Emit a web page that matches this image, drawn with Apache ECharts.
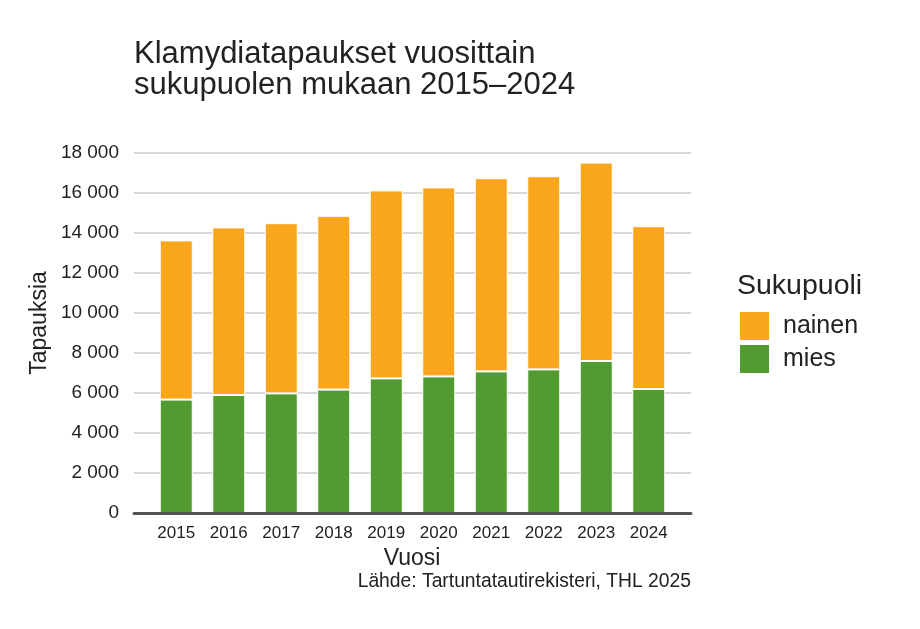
<!DOCTYPE html>
<html>
<head>
<meta charset="utf-8">
<script src="https://cdn.jsdelivr.net/npm/echarts@6/dist/echarts.min.js"></script>
<style>
    html, body {margin: 0; padding: 0; background: #fff;}
    #main {width: 920px; height: 629px;}
</style>
</head>
<body>
<div id="main"></div>
<script>
    var vuodet = ['2015', '2016', '2017', '2018', '2019', '2020', '2021', '2022', '2023', '2024'];
    var mies = [5670, 5900, 5980, 6170, 6730, 6830, 7080, 7180, 7600, 6200];
    var nainen = [7960, 8380, 8510, 8690, 9400, 9450, 9660, 9660, 9920, 8140];
    var yTicks = [0, 2000, 4000, 6000, 8000, 10000, 12000, 14000, 16000, 18000];

    var fontName = '"Liberation Sans", Arial, sans-serif';

    function tuhannet(v) {
        return String(v).replace(/\B(?=(\d{3})+(?!\d))/g, ' ');
    }

    var myChart = echarts.init(document.getElementById('main'));

    var option = {
        backgroundColor: '#ffffff',
        textStyle: {fontFamily: fontName},
        title: [
            {
                text: 'Klamydiatapaukset vuosittain\nsukupuolen mukaan 2015–2024',
                left: 134,
                top: 39,
                padding: 0,
                textStyle: {fontSize: 31, lineHeight: 31, fontWeight: 'normal', color: '#222', fontFamily: fontName}
            },
            {
                text: 'Sukupuoli',
                left: 737,
                top: 272,
                padding: 0,
                textStyle: {fontSize: 28.5, lineHeight: 28, fontWeight: 'normal', color: '#222', fontFamily: fontName}
            }
        ],
        legend: {
            data: ['nainen', 'mies'],
            orient: 'vertical',
            left: 740,
            top: 312,
            padding: 0,
            icon: 'rect',
            itemWidth: 29,
            itemHeight: 28,
            itemGap: 5,
            itemStyle: {borderWidth: 0},
            textStyle: {fontSize: 25, color: '#222', padding: [0, 0, 0, 9], fontFamily: fontName}
        },
        grid: [
            {left: 134, right: 229, top: 153, bottom: 116},
            {left: 150, right: 245, top: 153, bottom: 116}
        ],
        xAxis: [
            {
                gridIndex: 0,
                type: 'value',
                min: 0,
                max: 1,
                axisLabel: {show: false},
                axisTick: {show: false},
                splitLine: {show: false},
                axisLine: {show: true, lineStyle: {color: '#555', width: 3}},
                z: 5
            },
            {
                gridIndex: 1,
                type: 'category',
                data: vuodet,
                axisLine: {show: false},
                axisTick: {show: false},
                axisLabel: {fontSize: 17, color: '#222', margin: 12, fontFamily: fontName}
            }
        ],
        yAxis: [
            {
                gridIndex: 0,
                type: 'value',
                min: yTicks[0],
                max: yTicks[yTicks.length - 1],
                interval: 2000,
                axisLine: {show: false},
                axisTick: {show: false},
                axisLabel: {fontSize: 19, color: '#222', margin: 15, formatter: tuhannet, fontFamily: fontName},
                splitLine: {lineStyle: {color: '#cccccc', width: 1.5}}
            },
            {
                gridIndex: 1,
                type: 'value',
                min: yTicks[0],
                max: yTicks[yTicks.length - 1],
                interval: 2000,
                show: false,
                splitLine: {show: false}
            }
        ],
        graphic: [
            {
                type: 'text',
                x: 40,
                y: 323,
                rotation: Math.PI / 2,
                style: {text: 'Tapauksia', fontSize: 23, fill: '#222', align: 'center', verticalAlign: 'middle', fontFamily: fontName}
            },
            {
                type: 'text',
                x: 412,
                y: 559,
                style: {text: 'Vuosi', fontSize: 23, fill: '#222', align: 'center', verticalAlign: 'middle', fontFamily: fontName}
            },
            {
                type: 'text',
                x: 691,
                y: 582,
                style: {text: 'Lähde: Tartuntatautirekisteri, THL 2025', fontSize: 19.3, fill: '#222', align: 'right', verticalAlign: 'middle', fontFamily: fontName}
            }
        ],
        series: [
            {
                name: 'mies',
                type: 'bar',
                stack: 'yht',
                xAxisIndex: 1,
                yAxisIndex: 1,
                barWidth: 33,
                data: mies,
                itemStyle: {color: '#529b30', borderColor: '#ffffff', borderWidth: 1}
            },
            {
                name: 'nainen',
                type: 'bar',
                stack: 'yht',
                xAxisIndex: 1,
                yAxisIndex: 1,
                barWidth: 33,
                data: nainen,
                itemStyle: {color: '#f9a61d', borderColor: '#ffffff', borderWidth: 1}
            }
        ]
    };
    myChart.setOption(option);

    window.addEventListener("resize", function () {
        myChart.resize();
    });
</script>
</body>
</html>
